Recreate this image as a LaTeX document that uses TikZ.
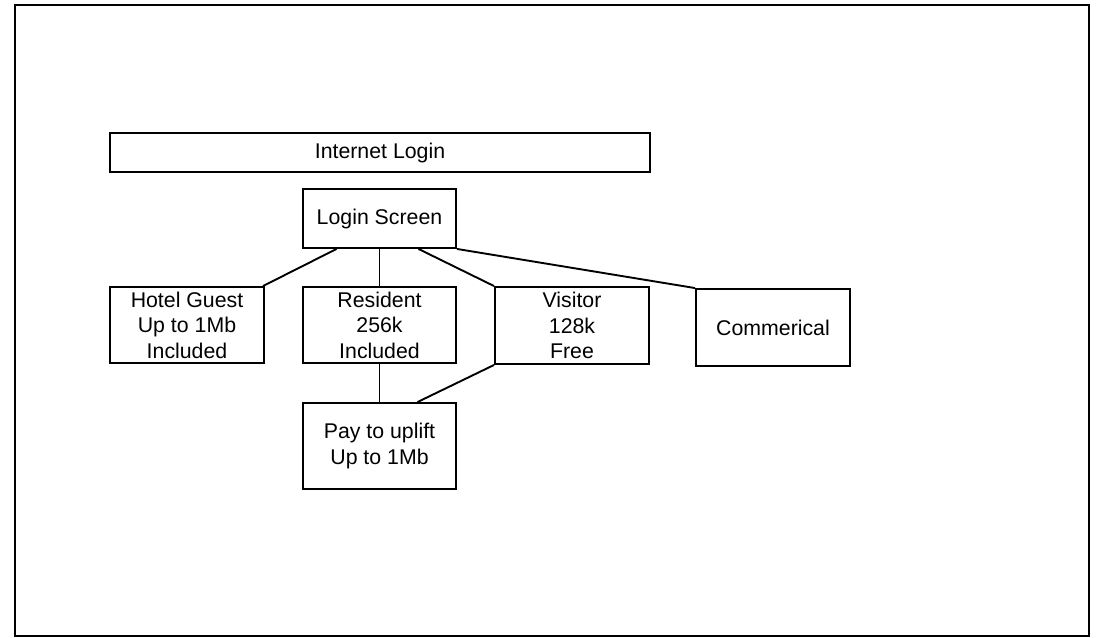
\documentclass[tikz,border=0pt]{standalone}
\usepackage{fontspec}
\setmainfont{Liberation Sans}
\usetikzlibrary{calc}
\begin{document}
\begin{tikzpicture}[x=1pt,y=-1pt,
  box/.style={draw, line width=1.9pt, inner sep=0pt, align=center,
    font=\fontsize{21.3}{25.5}\selectfont},
  link/.style={line width=1.9pt}]
\useasboundingbox (0,0) rectangle (1099,637);
\draw[line width=2pt] (15,4.5) rectangle (1088.5,635.5);
\node[box, minimum width=540pt, minimum height=39pt] (il) at (380,152.5) {Internet Login};
\node[box, minimum width=153pt, minimum height=59pt] (ls) at (379.5,218.5) {Login Screen};
\node[box, minimum width=154pt, minimum height=76pt] (hg) at (187,325) {Hotel Guest\\Up to 1Mb\\Included};
\node[box, minimum width=153pt, minimum height=76pt] (rs) at (379.5,325) {Resident\\256k\\Included};
\node[box, minimum width=154pt, minimum height=77pt] (vi) at (572,325.5) {Visitor\\128k\\Free};
\node[box, minimum width=154pt, minimum height=77pt] (cm) at (773,327.5) {Commerical};
\node[box, minimum width=153pt, minimum height=86pt] (pay) at (379.5,446) {Pay to uplift\\Up to 1Mb};
\draw[link] ($(ls.south)+(-43,0)$) -- ($(hg.north east)+(-2,0)$);
\draw[link] (ls.south) -- (rs.north);
\draw[link] ($(ls.south)+(39,0)$) -- (vi.north west);
\draw[link] (ls.south east) -- (cm.north west);
\draw[link] (rs.south) -- (pay.north);
\draw[link] (vi.south west) -- ($(pay.north)+(38,0)$);
\end{tikzpicture}
\end{document}
